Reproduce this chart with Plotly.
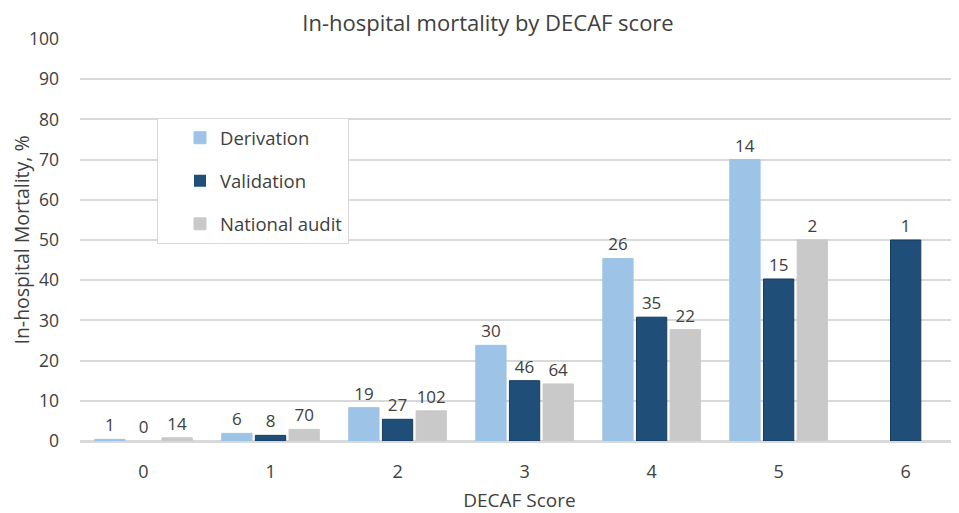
import plotly.graph_objects as go

scores = [0, 1, 2, 3, 4, 5, 6]
tick_labels = ["0", "1", "2", "3", "4", "5", "6"]

derivation = [0.4, 1.9, 8.3, 23.8, 45.4, 70.0, None]
validation = [0.0, 1.4, 5.4, 15.0, 30.8, 40.3, 50.0]
national = [0.8, 2.9, 7.5, 14.2, 27.7, 50.0, None]

derivation_n = ["1", "6", "19", "30", "26", "14", ""]
validation_n = ["0", "8", "27", "46", "35", "15", "1"]
national_n = ["14", "70", "102", "64", "22", "2", ""]

FONT = "Open Sans, Noto Sans, sans-serif"
TXT = "#404040"

fig = go.Figure()
series = [
    ("Derivation", derivation, derivation_n, "#9DC3E6", "#9DC3E6"),
    ("Validation", validation, validation_n, "#1F4E79", "#173B5C"),
    ("National audit", national, national_n, "#C9C9C9", "#C9C9C9"),
]
for i, (name, vals, labels, col, line) in enumerate(series):
    widths = [0 if (v is None or v == 0) else 1 for v in vals]
    fig.add_trace(go.Bar(
        x=scores, y=vals, name=name, text=labels,
        textposition="outside", cliponaxis=False,
        textfont=dict(size=17, color=TXT, family=FONT),
        marker=dict(color=col, line=dict(color=line, width=widths)),
        legendgroup=f"g{i}",
    ))

# page body adds an 8px offset, so the figure is sized/margined to compensate
fig.update_layout(
    width=951, height=505,
    margin=dict(l=72, r=0, t=31, b=72),
    paper_bgcolor="white", plot_bgcolor="white",
    barmode="group", bargap=0.205, bargroupgap=0.1,
    font=dict(family=FONT, color=TXT, size=16),
    title=dict(text="In-hospital mortality by DECAF score", x=480 / 951, xref="container",
               xanchor="center", y=1 - 15 / 505, yanchor="middle",
               font=dict(size=22, color=TXT, family=FONT)),
    legend=dict(x=0.0876, y=0.803, xanchor="left", yanchor="top",
                bgcolor="white", bordercolor="#D9D9D9", borderwidth=1,
                font=dict(size=18.5, color=TXT, family=FONT),
                tracegroupgap=16, indentation=22,
                entrywidth=176, entrywidthmode="pixels"),
    uniformtext=dict(mode=False),
)
fig.update_xaxes(range=[-0.5, 6.42], tickvals=scores, ticktext=tick_labels,
                 showgrid=False, showline=True, linecolor="#D9D9D9", linewidth=1.5,
                 ticks="", tickfont=dict(size=18, color=TXT), ticklabelstandoff=14,
                 title=dict(text="DECAF Score", font=dict(size=19, color=TXT), standoff=16))
fig.update_yaxes(range=[0, 100], dtick=10, showgrid=True, gridcolor="#D9D9D9", gridwidth=1.5,
                 zeroline=True, zerolinecolor="#D9D9D9", zerolinewidth=1.5,
                 ticks="", tickfont=dict(size=17.5, color=TXT), ticklabelstandoff=20,
                 title=dict(text="In-hospital Mortality, %", font=dict(size=19.5, color=TXT), standoff=2))

fig.write_html("out.html")
